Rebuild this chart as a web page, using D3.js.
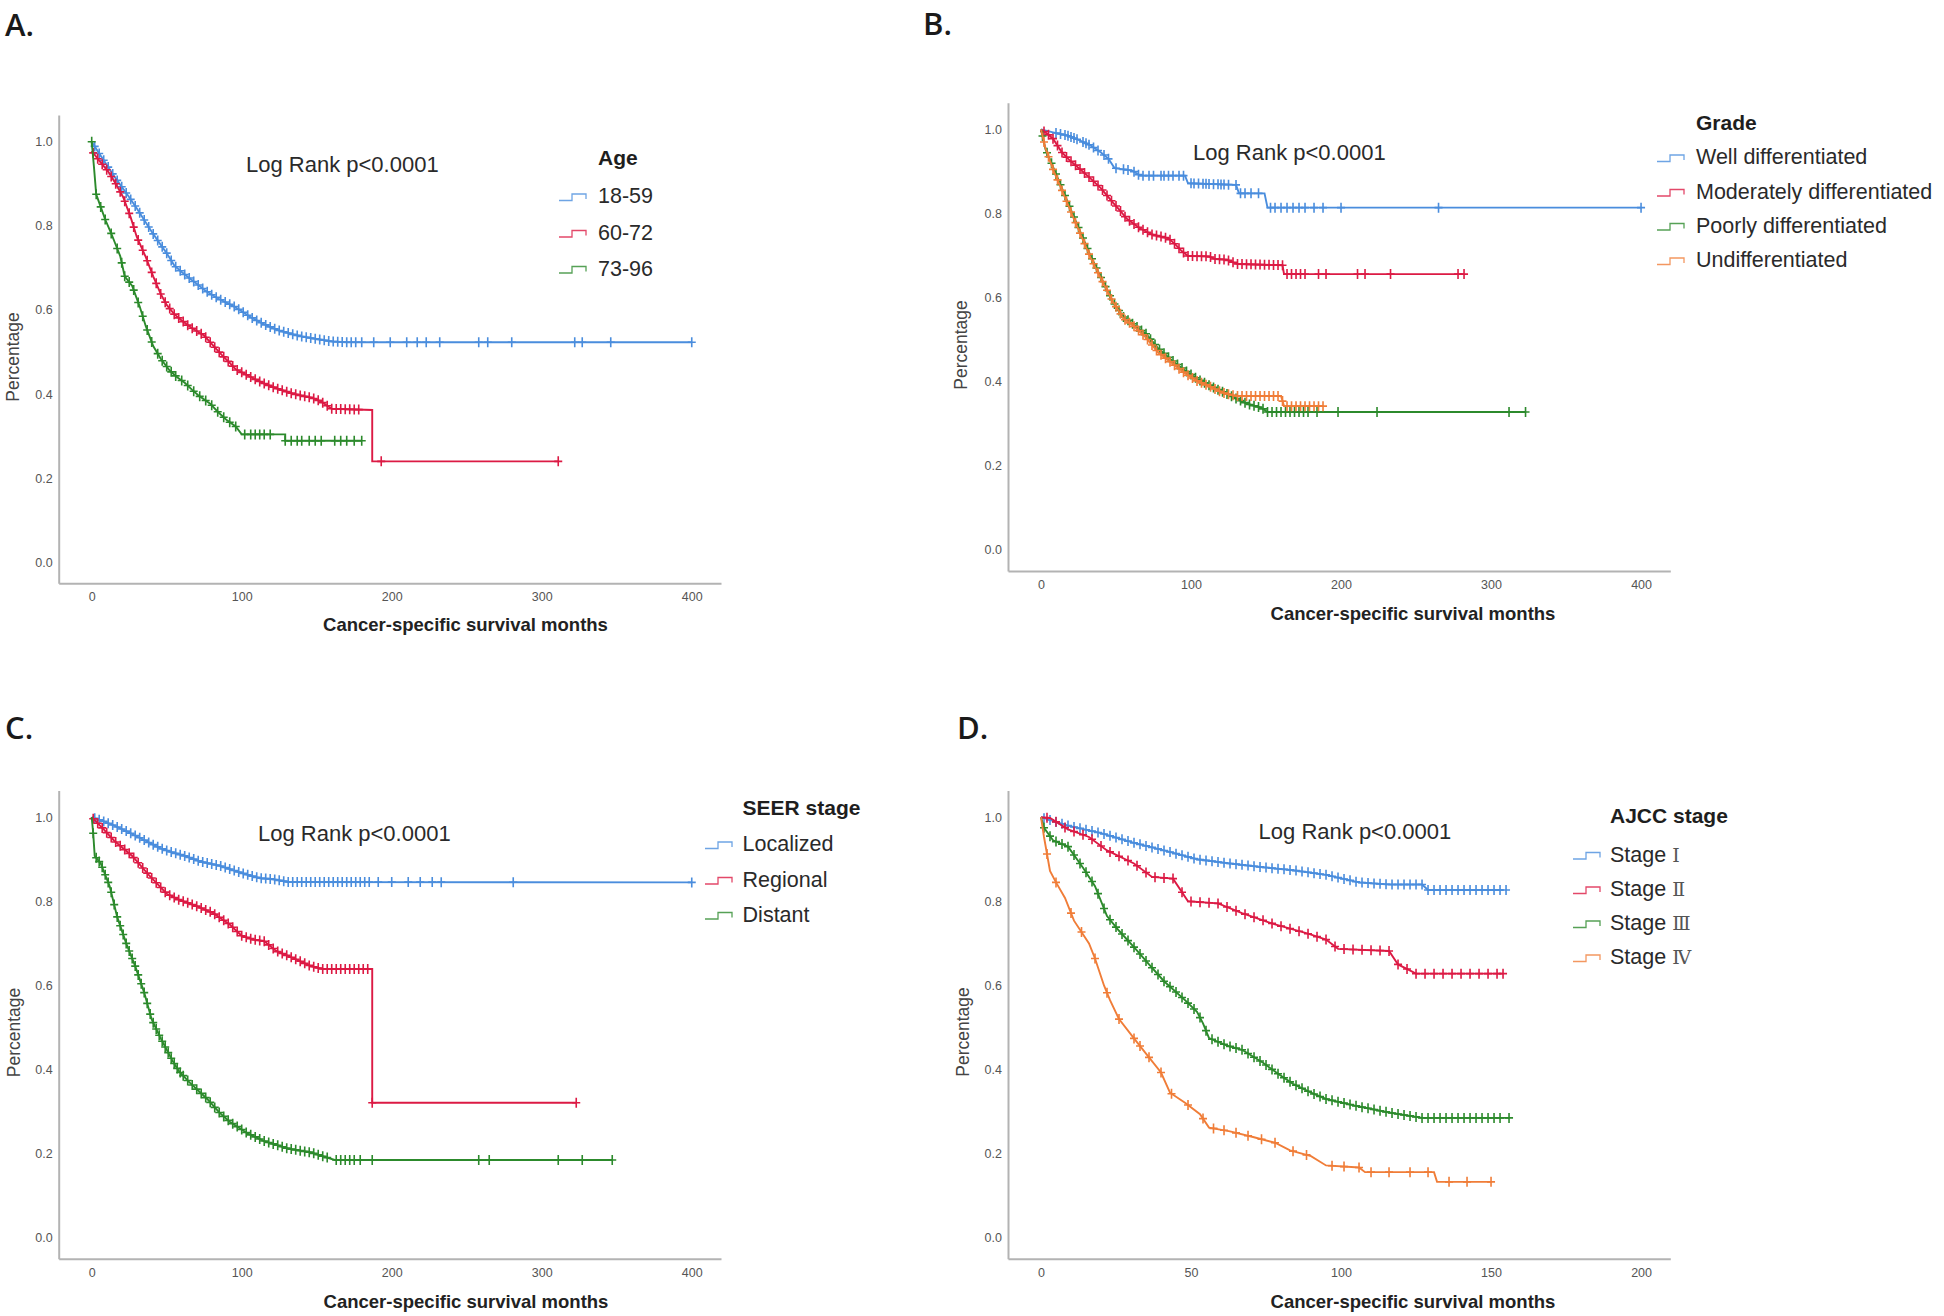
<!DOCTYPE html>
<html><head><meta charset="utf-8">
<script src="https://cdn.jsdelivr.net/npm/d3@7/dist/d3.min.js"></script>
<style>body{margin:0;background:#fff}svg{display:block}</style>
</head><body>
<script>
// ---------- tick labels ----------
const yTicks = [0, 0.2, 0.4, 0.6, 0.8, 1.0];
const xTicks400 = [0, 100, 200, 300, 400];
const xTicks200 = [0, 50, 100, 150, 200];

// ---------- Panel A: Age ----------
const ageLabels = ["18-59", "60-72", "73-96"];
const age1859 = [[0,1],[5,0.972],[10,0.945],[15,0.918],[20,0.893],[25,0.868],[30,0.842],[35,0.814],[40,0.786],[45,0.76],[50,0.735],[55,0.706],[60,0.69],[65,0.676],[70,0.662],[75,0.648],[80,0.636],[85,0.626],[90,0.617],[95,0.608],[100,0.597],[105,0.585],[110,0.575],[115,0.566],[120,0.558],[125,0.551],[130,0.546],[135,0.541],[140,0.537],[145,0.534],[150,0.531],[155,0.528],[160,0.525],[170,0.523],[400,0.523]];
const age6072 = [[0,0.978],[5,0.955],[11,0.929],[16,0.9],[21,0.868],[26,0.82],[30,0.774],[36,0.726],[41,0.68],[46,0.638],[50,0.612],[55,0.59],[60,0.575],[65,0.561],[70,0.55],[75,0.539],[81,0.515],[87,0.492],[92,0.474],[96,0.459],[103,0.446],[109,0.435],[115,0.425],[122,0.415],[128,0.408],[134,0.401],[140,0.396],[147,0.391],[153,0.382],[157,0.372],[160,0.365],[187,0.362],[187,0.24],[311,0.24]];
const age7396 = [[0,1],[1.5,0.94],[3,0.875],[6,0.845],[9,0.815],[13,0.782],[16,0.755],[19,0.728],[22,0.68],[27,0.657],[32,0.608],[36,0.562],[41,0.514],[46,0.484],[52,0.456],[57,0.44],[62,0.427],[67,0.41],[71,0.397],[79,0.377],[84,0.358],[90,0.338],[96,0.323],[100,0.304],[129,0.304],[129,0.289],[180,0.289]];
const age1859Censor = [2,5,8,11,14,17,20,23,26,29,32,35,38,41,44,47,50,53,56,59,62,65,68,71,74,77,80,83,86,89,92,95,98,101,104,107,110,113,116,119,122,125,128,131,134,137,140,143,146,149,152,155,158,161,164,167,170,173,176,180,188,199,210,217,223,232,258,264,280,322,327,346,400];
const age6072Censor = [1,4,7,10,13,16,19,22,25,28,31,34,37,40,43,46,49,52,55,58,61,64,67,70,73,76,79,82,85,88,91,94,97,100,103,106,109,112,115,118,121,124,127,130,133,136,139,142,145,148,151,154,157,160,163,166,169,172,175,178,193,311];
const age7396Censor = [0,3,6,9,13,17,20,22,25,28,31,34,37,40,44,47,50,53,56,60,64,68,72,76,80,84,88,92,96,102,106,109,112,115,119,129,133,137,140,145,149,153,162,166,170,175,180];

// ---------- Panel B: Grade ----------
const gradeLabels = ["Well differentiated", "Moderately differentiated", "Poorly differentiated", "Undifferentiated"];
const gradeWell = [[0,1],[8,0.993],[18,0.985],[25,0.975],[33,0.962],[40,0.945],[45,0.93],[49,0.908],[61,0.902],[66,0.89],[96,0.89],[98,0.872],[130,0.868],[132,0.848],[149,0.848],[151,0.814],[400,0.814]];
const gradeModerate = [[0,1],[4,0.99],[8,0.978],[14,0.945],[19,0.927],[23,0.915],[31,0.89],[40,0.86],[48,0.826],[53,0.806],[57,0.788],[62,0.775],[66,0.765],[74,0.75],[85,0.741],[90,0.725],[94,0.71],[98,0.699],[112,0.698],[116,0.692],[124,0.69],[128,0.684],[131,0.68],[161,0.677],[162,0.656],[282,0.656]];
const gradePoor = [[0,1],[3,0.953],[8,0.911],[14,0.86],[21,0.8],[27,0.75],[33,0.7],[40,0.648],[48,0.59],[55,0.554],[61,0.538],[70,0.514],[78,0.48],[87,0.452],[96,0.427],[104,0.407],[113,0.39],[121,0.376],[130,0.36],[138,0.347],[147,0.338],[151,0.328],[323,0.328]];
const gradeUndiff = [[0,1],[3,0.955],[8,0.905],[14,0.855],[21,0.795],[27,0.745],[33,0.695],[40,0.645],[48,0.59],[55,0.55],[61,0.535],[70,0.505],[78,0.47],[87,0.445],[96,0.42],[104,0.402],[113,0.388],[121,0.374],[130,0.366],[160,0.366],[162,0.342],[188,0.342]];
const gradeWellCensor = [10,13,16,18,20,22,24,28,30,32,35,38,42,45,50,55,58,62,65,68,72,75,80,82,85,88,92,95,100,102,105,108,110,112,115,118,120,122,125,130,133,136,140,145,153,156,160,164,168,172,176,182,188,200,265,400];
const gradeModerateCensor = [2,5,8,11,14,17,20,23,26,29,32,35,38,41,44,47,50,53,56,59,62,65,68,71,74,77,80,83,86,89,92,95,98,101,104,107,110,113,116,119,122,125,128,131,134,137,140,143,146,149,152,155,158,161,164,167,170,173,176,185,190,211,216,233,278,282];
const gradePoorCensor = [1,4,7,10,13,16,19,22,25,28,31,34,37,40,43,46,49,52,55,58,61,64,67,70,73,76,79,82,85,88,91,94,97,100,103,106,109,112,115,118,121,124,127,130,133,136,139,142,145,148,151,154,157,160,163,166,169,172,175,178,184,198,224,312,323];
const gradeUndiffCensor = [2,5,8,11,14,17,20,23,26,29,32,35,38,41,44,47,50,53,56,59,62,65,68,71,74,77,80,83,86,89,92,95,98,101,104,107,110,113,116,119,122,125,128,131,134,137,140,143,146,149,152,155,158,161,164,167,170,173,176,179,182,185,188];

// ---------- Panel C: SEER stage ----------
const seerLabels = ["Localized", "Regional", "Distant"];
const seerLocal = [[0,1],[8,0.99],[15,0.98],[23,0.967],[31,0.953],[38,0.94],[46,0.926],[54,0.916],[62,0.908],[73,0.894],[85,0.885],[96,0.872],[104,0.863],[112,0.855],[120,0.853],[131,0.846],[400,0.845]];
const seerRegional = [[0,1],[8,0.971],[15,0.944],[27,0.908],[38,0.863],[50,0.818],[58,0.804],[69,0.79],[81,0.772],[92,0.745],[100,0.718],[108,0.709],[115,0.705],[123,0.682],[135,0.664],[146,0.646],[154,0.639],[187,0.639],[187,0.321],[323,0.321]];
const seerDistant = [[0,1],[1,0.962],[2,0.908],[6,0.89],[12,0.836],[17,0.763],[23,0.7],[29,0.646],[35,0.583],[40,0.519],[46,0.474],[54,0.42],[58,0.397],[65,0.37],[77,0.33],[85,0.298],[92,0.276],[104,0.248],[115,0.23],[131,0.212],[146,0.203],[162,0.185],[347,0.185]];
const seerLocalCensor = [2,5,8,11,14,17,20,23,26,29,32,35,38,41,44,47,50,53,56,59,62,65,68,71,74,77,80,83,86,89,92,95,98,101,104,107,110,113,116,119,122,125,128,131,134,137,140,143,146,149,152,155,158,161,164,167,170,173,176,179,182,185,191,200,211,219,227,233,281,400];
const seerRegionalCensor = [1,4,7,10,13,16,19,22,25,28,31,34,37,40,43,46,49,52,55,58,61,64,67,70,73,76,79,82,85,88,91,94,97,100,103,106,109,112,115,118,121,124,127,130,133,136,139,142,145,148,151,154,157,160,163,166,169,172,175,178,181,184,187,323];
const seerDistantCensor = [1,3,5,7,9,11,13,15,17,19,21,23,25,27,29,31,33,35,37,39,41,43,45,47,49,51,53,55,57,59,61,64,67,70,73,76,79,82,85,88,91,94,97,100,103,106,109,112,115,118,121,124,127,130,133,136,139,142,145,148,151,154,157,163,166,169,172,175,179,187,258,265,311,327,347];

// ---------- Panel D: AJCC stage ----------
const ajccLabels = ["Stage ", "Stage ", "Stage ", "Stage "];
const ajccNumerals = ["Ⅰ", "Ⅱ", "Ⅲ", "Ⅳ"];
const ajcc1 = [[0,1],[9,0.98],[20,0.962],[31,0.939],[41,0.921],[52,0.9],[63,0.89],[74,0.881],[84,0.874],[95,0.863],[106,0.845],[116,0.84],[127,0.84],[129,0.827],[154,0.827]];
const ajcc2 = [[0,1],[3,0.998],[9,0.971],[16,0.953],[22,0.921],[31,0.89],[37,0.858],[44,0.854],[49,0.8],[59,0.795],[67,0.772],[78,0.745],[89,0.723],[95,0.709],[99,0.687],[116,0.682],[119,0.65],[125,0.628],[154,0.628]];
const ajcc3 = [[0,1],[1,0.975],[4,0.945],[9,0.93],[14,0.88],[18,0.836],[22,0.765],[26,0.73],[31,0.691],[36,0.65],[41,0.61],[48,0.565],[52,0.537],[54,0.51],[56,0.475],[62,0.457],[67,0.447],[74,0.416],[79,0.39],[84,0.366],[90,0.345],[95,0.33],[106,0.312],[116,0.298],[127,0.285],[156,0.285]];
const ajcc4 = [[0,1],[1,0.953],[3,0.872],[5,0.845],[8,0.808],[11,0.754],[16,0.7],[18,0.664],[21,0.6],[23,0.565],[26,0.52],[31,0.474],[35,0.438],[40,0.393],[43,0.345],[48,0.321],[53,0.294],[56,0.262],[63,0.253],[71,0.239],[78,0.226],[83,0.208],[90,0.194],[95,0.172],[106,0.167],[108,0.156],[131,0.156],[132,0.133],[150,0.133]];
const ajcc1Censor = [1,3,5,7,9,11,13,15,17,19,21,23,25,27,29,31,33,35,37,39,41,43,45,47,49,51,53,55,57,59,61,63,65,67,69,71,73,75,77,79,81,83,85,87,89,91,93,95,97,99,101,103,105,107,109,111,113,115,117,119,121,123,125,127,129,131,133,135,137,139,141,143,145,147,149,151,153,155];
const ajcc2Censor = [2,5,8,11,14,17,20,23,26,29,32,35,38,41,44,47,50,53,56,59,62,65,68,71,74,77,80,83,86,89,92,95,98,101,104,107,110,113,116,119,122,125,128,131,134,137,140,143,146,149,152,154];
const ajcc3Censor = [1,3,5,7,9,11,13,15,17,19,21,23,25,27,29,31,33,35,37,39,41,43,45,47,49,51,53,55,57,59,61,63,65,67,69,71,73,75,77,79,81,83,85,87,89,91,93,95,97,99,101,103,105,107,109,111,113,115,117,119,121,123,125,127,129,131,133,135,137,139,141,143,145,147,149,151,153,156];
const ajcc4Censor = [2,5,10,13.5,18,22,26,31,33,36,40,43.5,49,54,57.5,61,65,69,73.5,78,84,88.5,97,101,106,110,116,123,129,136,142,150];

// ---------- colours ----------
const seriesColors = ["#4a8ddd", "#dc1a44", "#2c8a2c", "#f07d38"];

// ---------- panels (built from the arrays above) ----------
const panels = [
  {letter:"A.", letterPos:[5,36], ox:0, oy:0, xDomain:[-22,419.5], xTicks:xTicks400,
   logRank:[246,172], pct:[19,357], xTitle:[465.5,631],
   legendTitle:"Age", legendTitlePos:[598,165], iconX:559, textX:598, itemY:[203,239.5,275.5],
   labels:ageLabels, data:[age1859,age6072,age7396], censor:[age1859Censor,age6072Censor,age7396Censor]},
  {letter:"B.", letterPos:[923,35], ox:949.3, oy:-12.3, xDomain:[-22,419.5], xTicks:xTicks400,
   logRank:[1193,160], pct:[967,345], xTitle:[1413,619.5],
   legendTitle:"Grade", legendTitlePos:[1696,130], iconX:1657, textX:1696, itemY:[164,198.5,232.5,267],
   labels:gradeLabels, data:[gradeWell,gradeModerate,gradePoor,gradeUndiff], censor:[gradeWellCensor,gradeModerateCensor,gradePoorCensor,gradeUndiffCensor]},
  {letter:"C.", letterPos:[5,739], ox:0, oy:675.5, xDomain:[-22,419.5], xTicks:xTicks400,
   logRank:[258,840.5], pct:[20,1032.5], xTitle:[466,1307.5],
   legendTitle:"SEER stage", legendTitlePos:[742.6,815], iconX:705, textX:742.6, itemY:[851,886.5,921.5],
   labels:seerLabels, data:[seerLocal,seerRegional,seerDistant], censor:[seerLocalCensor,seerRegionalCensor,seerDistantCensor]},
  {letter:"D.", letterPos:[957,739], ox:949.3, oy:675.5, xDomain:[-11,209.75], xTicks:xTicks200,
   logRank:[1258.6,838.5], pct:[969,1032], xTitle:[1413,1307.5],
   legendTitle:"AJCC stage", legendTitlePos:[1610,823], iconX:1573, textX:1610, itemY:[861.5,896,930,964],
   labels:ajccLabels, numerals:ajccNumerals, data:[ajcc1,ajcc2,ajcc3,ajcc4], censor:[ajcc1Censor,ajcc2Censor,ajcc3Censor,ajcc4Censor]}
];

const W = 1944, H = 1316;
const svg = d3.select("body").append("svg").attr("width", W).attr("height", H)
  .style("font-family", "'Liberation Sans', Arial, sans-serif");
svg.append("rect").attr("width", W).attr("height", H).attr("fill", "#fff");

function survivalAt(data, t) {
  for (let i = 0; i < data.length - 1; i++) {
    const a = data[i], b = data[i + 1];
    if (a[0] <= t && b[0] > t) return a[1] + (b[1] - a[1]) * (t - a[0]) / (b[0] - a[0]);
  }
  return data[data.length - 1][1];
}

const BASE_LEFT = 58.7, BASE_TOP = 115, PW = 662.3, PH = 468.3;

panels.forEach(p => {
  const left = BASE_LEFT + p.ox, top = BASE_TOP + p.oy;
  const x = d3.scaleLinear().domain(p.xDomain).range([left, left + PW]);
  const y = d3.scaleLinear().domain([-0.05, 1.0635]).range([top + PH, top]);
  const g = svg.append("g");

  // axes
  const gx = g.append("g").attr("transform", `translate(0,${top + PH})`)
    .call(d3.axisBottom(x).tickValues(p.xTicks).tickSize(0).tickPadding(9).tickFormat(d3.format("d")));
  const gy = g.append("g").attr("transform", `translate(${left},0)`)
    .call(d3.axisLeft(y).tickValues(yTicks).tickSize(0).tickPadding(6).tickFormat(d3.format(".1f")));
  [gx, gy].forEach(a => {
    a.select(".domain").attr("stroke", "#b3b3b3").attr("stroke-width", 2);
    a.selectAll("text").attr("fill", "#555").style("font-size", "12.5px")
      .style("font-family", "'Liberation Sans', Arial, sans-serif");
  });

  // curves
  p.data.forEach((d, i) => {
    const col = seriesColors[i];
    g.append("path").datum(d)
      .attr("d", d3.line().x(v => x(v[0])).y(v => y(v[1])))
      .attr("fill", "none").attr("stroke", col).attr("stroke-width", 1.9);
    g.append("g").selectAll("path").data(p.censor[i]).join("path")
      .attr("d", t => {
        const cx = x(t), cy = y(survivalAt(d, t));
        return `M${cx - 4},${cy}H${cx + 4}M${cx},${cy - 5}V${cy + 5}`;
      })
      .attr("stroke", col).attr("stroke-width", 1.6).attr("fill", "none");
  });

  // panel letter
  svg.append("text").attr("x", p.letterPos[0]).attr("y", p.letterPos[1]).text(p.letter)
    .style("font-family", "'Open Sans', 'Liberation Sans', sans-serif").style("font-size", "31px")
    .style("font-weight", "600").attr("fill", "#1a1a1a");

  // log rank
  svg.append("text").attr("x", p.logRank[0]).attr("y", p.logRank[1]).text("Log Rank p<0.0001")
    .style("font-size", "22px").attr("fill", "#2a2a2a");

  // axis titles
  svg.append("text").attr("transform", `translate(${p.pct[0]},${p.pct[1]}) rotate(-90)`)
    .attr("text-anchor", "middle").text("Percentage").style("font-size", "17.5px").attr("fill", "#444");
  svg.append("text").attr("x", p.xTitle[0]).attr("y", p.xTitle[1]).attr("text-anchor", "middle")
    .text("Cancer-specific survival months").style("font-size", "18.5px").style("font-weight", "bold").attr("fill", "#222");

  // legend
  svg.append("text").attr("x", p.legendTitlePos[0]).attr("y", p.legendTitlePos[1]).text(p.legendTitle)
    .style("font-size", "21px").style("font-weight", "bold").attr("fill", "#1e1e1e");
  p.labels.forEach((lab, i) => {
    const by = p.itemY[i], ix = p.iconX;
    svg.append("path")
      .attr("d", `M${ix},${by - 2.5}H${ix + 13}V${by - 9}H${ix + 27}V${by - 4}`)
      .attr("fill", "none").attr("stroke", seriesColors[i]).attr("stroke-width", 1.3).attr("opacity", 0.8);
    const t = svg.append("text").attr("x", p.textX).attr("y", by).style("font-size", "21.5px").attr("fill", "#2a2a2a").text(lab);
    if (p.numerals) {
      t.append("tspan").text(p.numerals[i]).attr("fill", "#555")
        .style("font-family", "'DejaVu Serif', 'Liberation Serif', 'Noto Sans CJK SC', serif").style("font-size", "19px");
    }
  });
});
</script>
</body></html>
